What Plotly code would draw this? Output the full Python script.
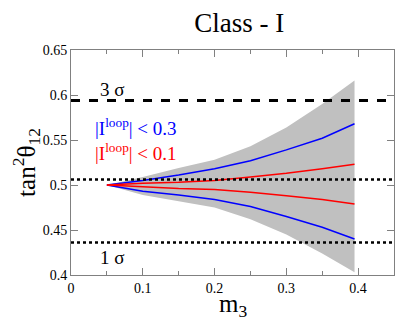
import plotly.graph_objects as go

# m3 sample points
m3 = [0.05, 0.10, 0.15, 0.20, 0.25, 0.30, 0.35, 0.395]

# grey allowed region
band_top = [0.500, 0.509, 0.519, 0.528, 0.543, 0.564, 0.590, 0.616]
band_bot = [0.500, 0.489, 0.482, 0.475, 0.462, 0.445, 0.424, 0.403]

# |I_loop| < 0.3 (blue)
blue_up = [0.500, 0.505, 0.511, 0.518, 0.527, 0.539, 0.552, 0.568]
blue_lo = [0.500, 0.493, 0.489, 0.484, 0.476, 0.465, 0.453, 0.440]

# |I_loop| < 0.1 (red)
red_up = [0.500, 0.502, 0.503, 0.505, 0.509, 0.513, 0.518, 0.523]
red_lo = [0.500, 0.498, 0.496, 0.495, 0.492, 0.488, 0.484, 0.479]

# experimental bounds
sigma3_upper = 0.594
sigma1_upper = 0.506
sigma1_lower = 0.436

FONT = "Liberation Serif"

fig = go.Figure()

# grey band as one closed polygon
fig.add_trace(go.Scatter(
    x=m3 + m3[::-1], y=band_top + band_bot[::-1],
    fill="toself", fillcolor="#c0c0c0", line=dict(width=0),
    mode="lines", hoverinfo="skip", showlegend=False))

for ys, col in [(blue_up, "blue"), (blue_lo, "blue"), (red_up, "red"), (red_lo, "red")]:
    fig.add_trace(go.Scatter(x=m3, y=ys, mode="lines",
                             line=dict(color=col, width=1.5), showlegend=False))

# horizontal sigma lines
fig.add_hline(y=sigma3_upper, line=dict(color="black", width=3, dash="dash"))
fig.add_hline(y=sigma1_upper, line=dict(color="black", width=2.5, dash="dot"))
fig.add_hline(y=sigma1_lower, line=dict(color="black", width=2.5, dash="dot"))

fig.add_annotation(x=0.058, y=sigma3_upper, text="3 σ", showarrow=False,
                   yanchor="bottom", yshift=-2, font=dict(size=19, color="black"))
fig.add_annotation(x=0.058, y=0.420, text="1 σ", showarrow=False,
                   font=dict(size=19, color="black"))
fig.add_annotation(x=0.030, y=0.565, text="|I<sup>loop</sup>| < 0.3", showarrow=False,
                   xanchor="left", font=dict(size=19, color="blue"))
fig.add_annotation(x=0.030, y=0.537, text="|I<sup>loop</sup>| < 0.1", showarrow=False,
                   xanchor="left", font=dict(size=19, color="red"))

# x-axis title placed by hand, just under the tick labels
fig.add_annotation(x=0.5, y=-0.135, xref="paper", yref="paper", yanchor="middle",
                   text="m<sub>3</sub>", showarrow=False,
                   font=dict(size=25, color="black"))

axis_common = dict(showline=True, linecolor="#808080", linewidth=1, mirror="allticks",
                   ticks="inside", tickcolor="#808080", ticklen=7, showgrid=False,
                   zeroline=False, automargin=False,
                   tickfont=dict(size=14, color="black"))

fig.update_xaxes(range=[0, 0.45], tickvals=[0, 0.1, 0.2, 0.3, 0.4],
                 ticktext=["0", "0.1", "0.2", "0.3", "0.4"],
                 minor=dict(ticks="inside", tickvals=[0.05, 0.15, 0.25, 0.35],
                            ticklen=4, tickcolor="#808080"),
                 **axis_common)
fig.update_yaxes(range=[0.4, 0.65], tickvals=[0.4, 0.45, 0.5, 0.55, 0.6, 0.65],
                 ticktext=["0.4", "0.45", "0.5", "0.55", "0.6", "0.65"],
                 title=dict(text="tan<sup>2</sup>θ<sub>12</sub>",
                            font=dict(size=25, color="black"), standoff=4),
                 **axis_common)

# the page body adds an 8px offset, so the figure is 8px smaller on each side
fig.update_layout(
    width=411, height=316,
    margin=dict(l=63, r=25, t=42, b=49),
    font=dict(family=FONT, color="black"),
    plot_bgcolor="white", paper_bgcolor="white",
    title=dict(text="Class - I", x=0.5625, xanchor="center", y=0.955, yanchor="middle",
               font=dict(family=FONT, size=27, color="black")),
    showlegend=False,
)

fig.write_html("out.html")
